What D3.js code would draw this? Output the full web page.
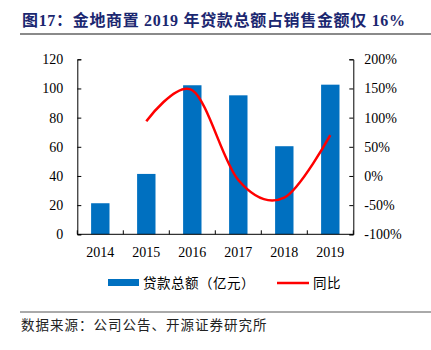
<!DOCTYPE html>
<html>
<head>
<meta charset="utf-8">
<script src="https://cdn.jsdelivr.net/npm/d3@7"></script>
<style>
  body { margin: 0; background: #fff; }
  svg { display: block; }
</style>
</head>
<body>
<script>
// chart data
const years = ["2014", "2015", "2016", "2017", "2018", "2019"];
const loans = [21.3, 41.4, 102.2, 95.3, 60.4, 102.6];   // 贷款总额（亿元）
const growth = [null, 94, 147, -7, -37, 70];             // 同比 %
const leftTicks = [0, 20, 40, 60, 80, 100, 120];
const rightTicks = [-100, -50, 0, 50, 100, 150, 200];

const W = 431, H = 350;
const serif = "'Liberation Serif', 'Times New Roman', serif";
const cjk = "'Noto Sans CJK SC', sans-serif";

const svg = d3.select("body").append("svg")
    .attr("width", W)
    .attr("height", H);

// title
svg.append("text")
    .attr("x", 22).attr("y", 26)
    .attr("font-family", serif + ", 'Noto Sans CJK SC'")
    .attr("font-weight", "bold")
    .attr("font-size", "16px")
    .attr("fill", "#1b2770")
    .attr("textLength", 383)
    .attr("lengthAdjust", "spacing")
    .text("图17：金地商置 2019 年贷款总额占销售金额仅 16%");

svg.append("line")
    .attr("x1", 20).attr("x2", W).attr("y1", 34).attr("y2", 34)
    .attr("stroke", "#8a8a8a").attr("stroke-width", 2);

const plotL = 77.3, plotR = 353.3, plotT = 59.3, plotB = 234.3;

const x = d3.scaleBand()
    .domain(years)
    .range([plotL, plotR])
    .paddingInner(0.6)
    .paddingOuter(0.3);

const y = d3.scaleLinear().domain([0, 120]).range([plotB, plotT]);
const y2 = d3.scaleLinear().domain([-100, 200]).range([plotB, plotT]);

// bars
svg.append("g").selectAll("rect")
    .data(loans)
    .join("rect")
    .attr("x", (d, i) => x(years[i]))
    .attr("y", d => y(d))
    .attr("width", x.bandwidth())
    .attr("height", d => plotB - y(d))
    .attr("fill", "#0070c0");

// axes
svg.append("g")
    .attr("transform", `translate(${plotL},0)`)
    .call(d3.axisLeft(y).tickValues(leftTicks).tickSizeInner(-4).tickSizeOuter(-4).tickPadding(14));

svg.append("g")
    .attr("transform", `translate(${plotR},0)`)
    .call(d3.axisRight(y2).tickValues(rightTicks).tickSizeInner(-4).tickSizeOuter(-4).tickPadding(11)
        .tickFormat(d => d + "%"));

const step = x.step();
const bounds = d3.range(years.length + 1).map(i => plotL + i * step);
const axisBottom = svg.append("g");
axisBottom.append("line")
    .attr("x1", plotL).attr("x2", plotR).attr("y1", plotB).attr("y2", plotB)
    .attr("stroke", "#000");
axisBottom.selectAll(".bt")
    .data(bounds)
    .join("line")
    .attr("x1", d => d).attr("x2", d => d)
    .attr("y1", plotB).attr("y2", plotB - 4)
    .attr("stroke", "#000");
axisBottom.selectAll("text")
    .data(years)
    .join("text")
    .attr("x", d => x(d) + x.bandwidth() / 2)
    .attr("y", 257)
    .attr("text-anchor", "middle")
    .text(d => d);

svg.selectAll(".domain").attr("stroke", "#000");
svg.selectAll(".tick line").attr("stroke", "#000");
svg.selectAll("g text")
    .attr("font-family", serif)
    .attr("font-size", "14px")
    .attr("fill", "#000");

// yoy line
const pts = growth.map((g, i) => [x(years[i]) + x.bandwidth() / 2, g]).filter(p => p[1] !== null);
svg.append("path")
    .datum(pts)
    .attr("fill", "none")
    .attr("stroke", "#ff0000")
    .attr("stroke-width", 2.5)
    .attr("d", d3.line()
        .x(d => d[0])
        .y(d => y2(d[1]))
        .curve(d3.curveCardinal.tension(0)));

// legend
const lg = svg.append("g");
lg.append("rect")
    .attr("x", 108).attr("y", 279).attr("width", 31).attr("height", 7)
    .attr("fill", "#0070c0");
lg.append("text")
    .attr("x", 143).attr("y", 288)
    .attr("font-family", cjk).attr("font-size", "13.5px")
    .attr("letter-spacing", "0.5px")
    .text("贷款总额（亿元）");
lg.append("line")
    .attr("x1", 277).attr("x2", 309).attr("y1", 283).attr("y2", 283)
    .attr("stroke", "#ff0000").attr("stroke-width", 2.5);
lg.append("text")
    .attr("x", 313).attr("y", 288)
    .attr("font-family", cjk).attr("font-size", "13.5px")
    .attr("letter-spacing", "0.5px")
    .text("同比");

// source
svg.append("line")
    .attr("x1", 20).attr("x2", W).attr("y1", 312).attr("y2", 312)
    .attr("stroke", "#555").attr("stroke-width", 1);
svg.append("text")
    .attr("x", 21).attr("y", 330)
    .attr("font-family", cjk).attr("font-size", "13.5px")
    .attr("letter-spacing", "1px")
    .attr("fill", "#222")
    .text("数据来源：公司公告、开源证券研究所");
</script>
</body>
</html>
